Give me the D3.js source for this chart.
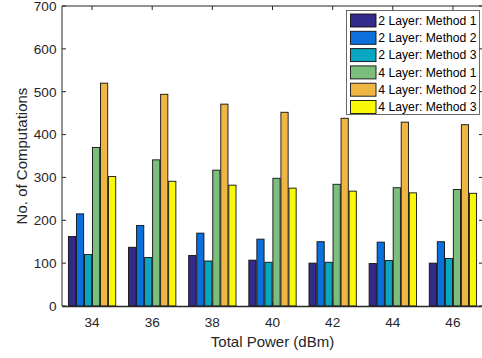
<!DOCTYPE html>
<html>
<head>
<meta charset="utf-8">
<script src="https://cdn.jsdelivr.net/npm/d3@7"></script>
<style>
  html, body { margin: 0; padding: 0; background: #fff; }
  svg { display: block; font-family: "Liberation Sans", Arial, sans-serif; }
</style>
</head>
<body>
<svg id="chart" width="482" height="358"></svg>
<script>
// ---- data ----
const categories = [34, 36, 38, 40, 42, 44, 46];
const seriesNames = ["2 Layer: Method 1", "2 Layer: Method 2", "2 Layer: Method 3",
                     "4 Layer: Method 1", "4 Layer: Method 2", "4 Layer: Method 3"];
const layer2Method1 = [162, 137, 118, 107, 100, 99, 100];
const layer2Method2 = [215, 188, 170, 156, 150, 149, 150];
const layer2Method3 = [120, 113, 105, 102, 102, 106, 111];
const layer4Method1 = [370, 341, 317, 298, 284, 276, 272];
const layer4Method2 = [520, 494, 471, 452, 438, 429, 423];
const layer4Method3 = [302, 291, 282, 275, 268, 264, 263];
const yTicks = [0, 100, 200, 300, 400, 500, 600, 700];
const colors = ["#332a8a", "#0b6fdc", "#07a6c1", "#7cbf7c", "#efb644", "#f8f808"];

const series = [layer2Method1, layer2Method2, layer2Method3, layer4Method1, layer4Method2, layer4Method3];

const svg = d3.select("#chart");
const axisColor = "#262626";

const x = d3.scaleLinear().domain([33, 47]).range([62, 483]);
const y = d3.scaleLinear().domain([0, 700]).range([306, 6]);

// slot width for grouped bars: group spans 1.6 units
const groupW = x(34.8) - x(33.2);
const slot = groupW / series.length;
const barW = slot * 0.9;

// bars
series.forEach((vals, si) => {
  svg.append("g").selectAll("rect")
    .data(vals.map((v, i) => ({ c: categories[i], v })))
    .join("rect")
    .attr("x", d => x(d.c) - groupW / 2 + si * slot + (slot - barW) / 2)
    .attr("y", d => y(d.v))
    .attr("width", barW)
    .attr("height", d => y(0) - y(d.v))
    .attr("fill", colors[si])
    .attr("stroke", "#111")
    .attr("stroke-width", 0.9);
});

// axes box
const g = svg.append("g").attr("fill", "none").attr("stroke", axisColor).attr("stroke-width", 1);
g.append("line").attr("x1", 62).attr("x2", 62).attr("y1", y(0)).attr("y2", y(700));
g.append("line").attr("x1", 62).attr("x2", 483).attr("y1", y(0) + 0.5).attr("y2", y(0) + 0.5).attr("stroke-width", 1.6);
g.append("line").attr("x1", 62).attr("x2", 483).attr("y1", y(700)).attr("y2", y(700));
g.append("line").attr("x1", 482.5).attr("x2", 482.5).attr("y1", y(0)).attr("y2", y(700));

const tl = 4;
categories.forEach(c => {
  g.append("line").attr("x1", x(c)).attr("x2", x(c)).attr("y1", y(0)).attr("y2", y(0) - tl);
  g.append("line").attr("x1", x(c)).attr("x2", x(c)).attr("y1", y(700)).attr("y2", y(700) + tl);
});
yTicks.forEach(t => {
  g.append("line").attr("x1", 62).attr("x2", 62 + tl).attr("y1", y(t)).attr("y2", y(t));
  g.append("line").attr("x1", 483).attr("x2", 483 - tl).attr("y1", y(t)).attr("y2", y(t));
});

// tick labels
svg.append("g").selectAll("text").data(yTicks).join("text")
  .attr("x", 56.5).attr("y", d => y(d)).attr("dy", "0.36em")
  .attr("text-anchor", "end").attr("font-size", 13.6).attr("fill", axisColor)
  .text(d => d);
svg.append("g").selectAll("text").data(categories).join("text")
  .attr("x", d => x(d)).attr("y", 326.5)
  .attr("text-anchor", "middle").attr("font-size", 13.6).attr("fill", axisColor)
  .text(d => d);

// axis labels
svg.append("text").attr("x", x(40)).attr("y", 347)
  .attr("text-anchor", "middle").attr("font-size", 15).attr("fill", axisColor)
  .text("Total Power (dBm)");
svg.append("text").attr("transform", `translate(27,${y(350)}) rotate(-90)`)
  .attr("text-anchor", "middle").attr("font-size", 15).attr("fill", axisColor)
  .text("No. of Computations");

// legend
const lg = svg.append("g");
lg.append("rect").attr("x", 346.5).attr("y", 10.5).attr("width", 133).attr("height", 104)
  .attr("fill", "#fff").attr("stroke", "#444").attr("stroke-width", 0.8);
seriesNames.forEach((name, i) => {
  const ry = 14 + i * 17.3;
  lg.append("rect").attr("x", 350.5).attr("y", ry).attr("width", 25.5).attr("height", 13)
    .attr("fill", colors[i]).attr("stroke", "#111").attr("stroke-width", 0.9);
  lg.append("text").attr("x", 378.3).attr("y", ry + 6.5).attr("dy", "0.36em")
    .attr("font-size", 12.2).attr("fill", "#000").text(name);
});
</script>
</body>
</html>
